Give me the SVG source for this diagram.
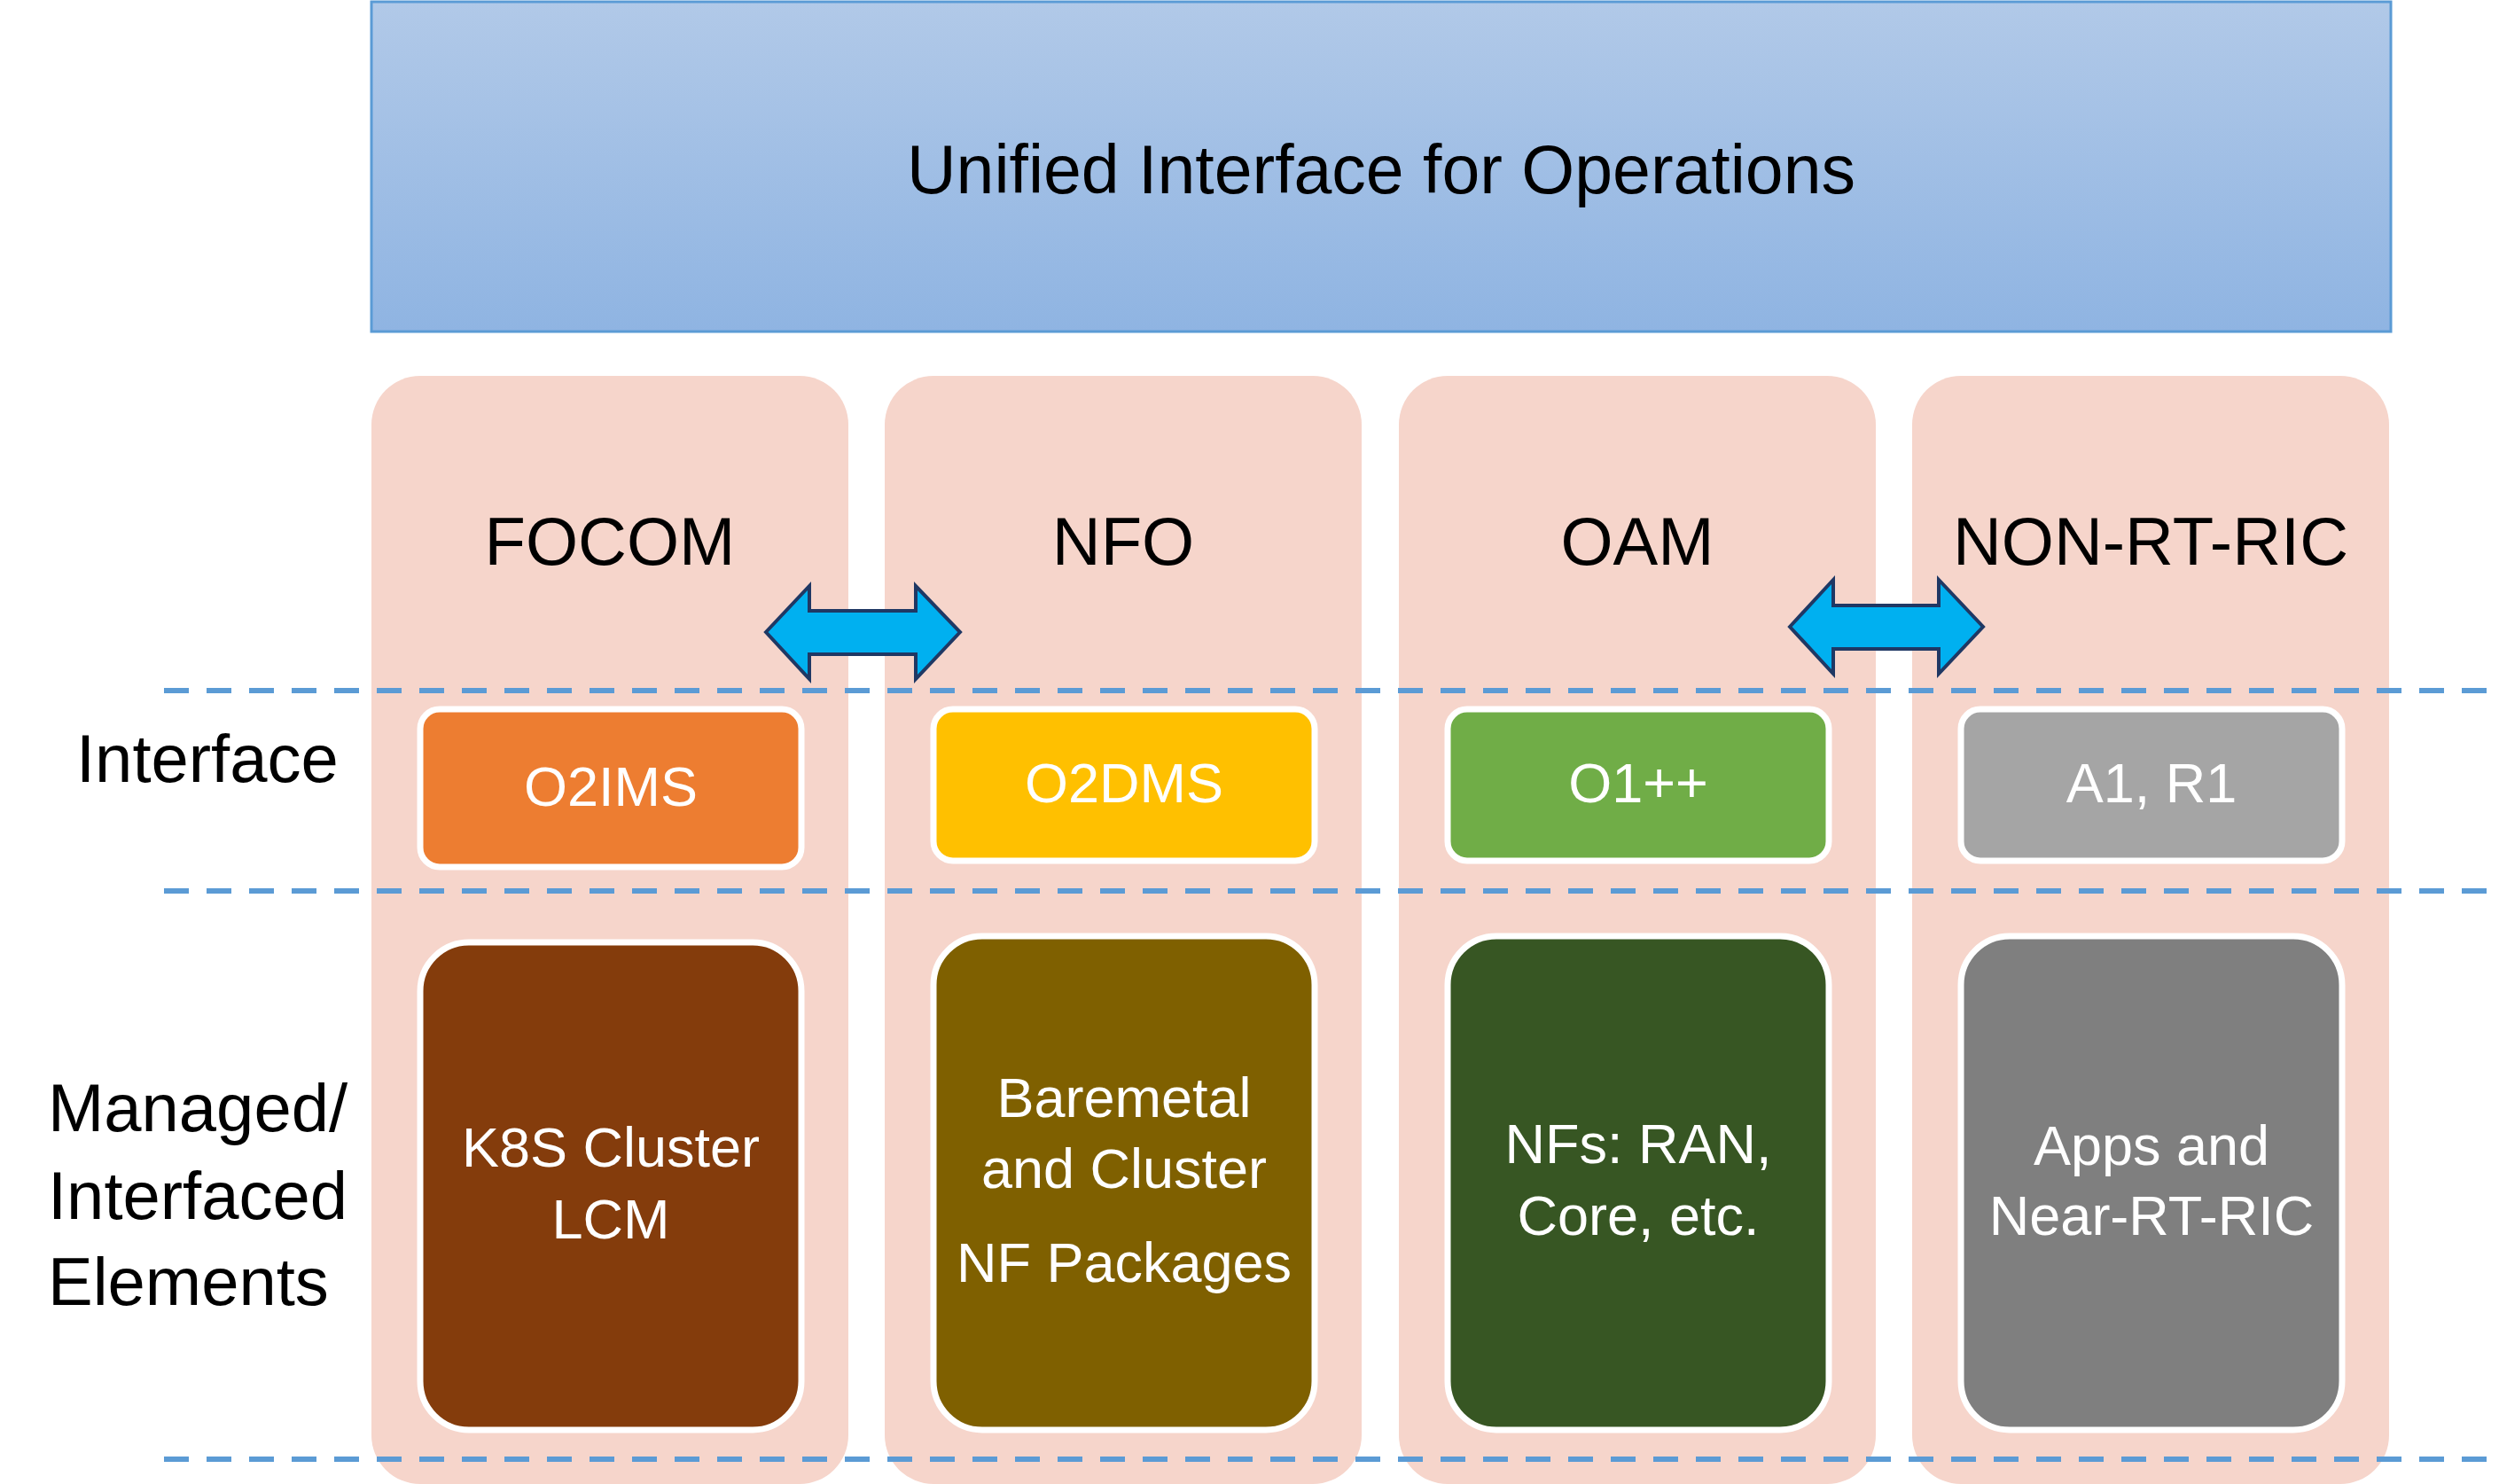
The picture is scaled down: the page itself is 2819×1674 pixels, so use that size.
<svg xmlns="http://www.w3.org/2000/svg" width="2819" height="1674" viewBox="0 0 2819 1674">
<defs>
<linearGradient id="topg" x1="0" y1="0" x2="0" y2="1">
<stop offset="0" stop-color="#b1c9e8"/>
<stop offset="1" stop-color="#8fb4e2"/>
</linearGradient>
<style>
text{font-family:"Liberation Sans",Arial,sans-serif}
.col{fill:#f6d5cb}
.hdr{font-size:76px;fill:#000;text-anchor:middle}
.lbl{font-size:76px;fill:#000}
.ibox{stroke:#fff;stroke-width:7}
.ebox{stroke:#fff;stroke-width:7}
.wt{font-size:63px;fill:#fff;text-anchor:middle}
.dash{stroke:#5b9bd5;stroke-width:6;stroke-dasharray:28 20;fill:none}
.arr{fill:#00b0f0;stroke:#1f3864;stroke-width:4;stroke-linejoin:miter}
</style>
</defs>
<rect width="2819" height="1674" fill="#fff"/>
<g id="unified">
<rect x="419" y="2" width="2278" height="372" fill="url(#topg)" stroke="#5b9bd5" stroke-width="3"/>
<text x="1558" y="218" font-size="77" text-anchor="middle" fill="#000">Unified Interface for Operations</text>
</g>
<g id="col-focom"><rect class="col" x="419" y="424" width="538" height="1250" rx="55"/><text class="hdr" x="688" y="637">FOCOM</text></g>
<g id="col-nfo"><rect class="col" x="998" y="424" width="538" height="1250" rx="55"/><text class="hdr" x="1267" y="637">NFO</text></g>
<g id="col-oam"><rect class="col" x="1578" y="424" width="538" height="1250" rx="55"/><text class="hdr" x="1847" y="637">OAM</text></g>
<g id="col-nonrtric"><rect class="col" x="2157" y="424" width="538" height="1250" rx="55"/><text class="hdr" x="2426" y="637">NON-RT-RIC</text></g>
<g id="connectors">
<line class="dash" x1="185" y1="779" x2="2819" y2="779"/>
<line class="dash" x1="185" y1="1005" x2="2819" y2="1005"/>
<line class="dash" x1="185" y1="1646" x2="2819" y2="1646"/>
<polygon class="arr" points="864,713 913,661 913,689 1033,689 1033,661 1083,713 1033,766 1033,738 913,738 913,766"/>
<polygon class="arr" points="2019,707 2068,654 2068,683 2187,683 2187,654 2237,707 2187,760 2187,732 2068,732 2068,760"/>
</g>
<g id="row-labels">
<text class="lbl" x="86" y="882">Interface</text>
<text class="lbl" x="54" y="1276">Managed/</text>
<text class="lbl" x="54" y="1375">Interfaced</text>
<text class="lbl" x="54" y="1472">Elements</text>
</g>
<g id="o2ims"><rect class="ibox" x="474" y="800" width="430" height="178" rx="22" fill="#ed7d31"/><text class="wt" x="689" y="909">O2IMS</text></g>
<g id="o2dms"><rect class="ibox" x="1053" y="800" width="430" height="171" rx="22" fill="#ffc000"/><text class="wt" x="1268" y="905">O2DMS</text></g>
<g id="o1"><rect class="ibox" x="1633" y="800" width="430" height="171" rx="22" fill="#70ad47"/><text class="wt" x="1848" y="905">O1++</text></g>
<g id="a1r1"><rect class="ibox" x="2212" y="800" width="430" height="171" rx="22" fill="#a5a5a5"/><text class="wt" x="2427" y="905">A1, R1</text></g>
<g id="k8s"><rect class="ebox" x="474" y="1063" width="430" height="550" rx="55" fill="#843c0c"/><text class="wt" x="689" y="1316">K8S Cluster</text><text class="wt" x="689" y="1397">LCM</text></g>
<g id="baremetal"><rect class="ebox" x="1053" y="1056" width="430" height="557" rx="55" fill="#7f6000"/><text class="wt" x="1268" y="1260">Baremetal</text><text class="wt" x="1268" y="1340">and Cluster</text><text class="wt" x="1268" y="1446">NF Packages</text></g>
<g id="nfs"><rect class="ebox" x="1633" y="1056" width="430" height="557" rx="55" fill="#375623"/><text class="wt" x="1848" y="1312">NFs: RAN,</text><text class="wt" x="1848" y="1393">Core, etc.</text></g>
<g id="apps"><rect class="ebox" x="2212" y="1056" width="430" height="557" rx="55" fill="#7f7f7f"/><text class="wt" x="2427" y="1314">Apps and</text><text class="wt" x="2427" y="1393">Near-RT-RIC</text></g>
</svg>
